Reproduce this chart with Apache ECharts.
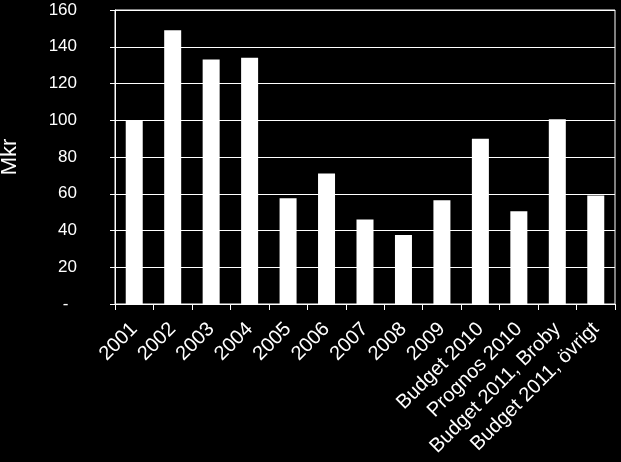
<!DOCTYPE html>
<html>
<head>
<meta charset="utf-8">
<script src="https://cdn.jsdelivr.net/npm/echarts@6/dist/echarts.min.js"></script>
<style>
  html, body { margin: 0; padding: 0; background: #000; }
  #chart { width: 621px; height: 462px; }
</style>
</head>
<body>
<div id="chart"></div>
<script>
const categories = ['2001', '2002', '2003', '2004', '2005', '2006', '2007', '2008', '2009',
  'Budget 2010', 'Prognos 2010', 'Budget 2011, Broby', 'Budget 2011, övrigt']
const values = [100, 149, 133, 134, 57.5, 71, 46, 37.5, 56.5, 90, 50.5, 100.5, 59]

const chart = echarts.init(document.getElementById('chart'))

let option = {
  backgroundColor: '#000',
  animation: false,
  textStyle: {
    fontFamily: '"Liberation Sans", Arial, sans-serif'
  },
  grid: {
    left: 115,
    right: 6,
    top: 10,
    bottom: 158,
    show: true,
    borderColor: '#fff',
    borderWidth: 1,
    containLabel: false,
    outerBoundsMode: 'none'
  },
  xAxis: {
    type: 'category',
    data: categories,
    axisLine: {
      show: true,
      lineStyle: { color: '#fff', width: 1 }
    },
    axisTick: {
      show: true,
      alignWithLabel: false,
      length: 6,
      lineStyle: { color: '#fff' }
    },
    axisLabel: {
      color: '#fff',
      fontSize: 20,
      rotate: 45,
      interval: 0,
      margin: 22
    }
  },
  yAxis: {
    type: 'value',
    min: 0,
    max: 160,
    interval: 20,
    name: 'Mkr',
    nameLocation: 'middle',
    nameGap: 94,
    nameTextStyle: {
      color: '#fff',
      fontSize: 22
    },
    axisLine: {
      show: true,
      lineStyle: { color: '#fff', width: 1 }
    },
    axisTick: {
      show: true,
      length: 5,
      lineStyle: { color: '#fff' }
    },
    axisLabel: {
      color: '#fff',
      fontSize: 17,
      margin: 38,
      // excel-style dash for zero, sits a bit left of the numbers
      formatter: v => v === 0 ? '-\u2002' : String(v)
    },
    splitLine: {
      show: true,
      lineStyle: { color: '#fff', width: 1 }
    }
  },
  series: [{
    type: 'bar',
    data: values,
    barWidth: 17,
    itemStyle: { color: '#fff' }
  }]
}

chart.setOption(option)
</script>
</body>
</html>
